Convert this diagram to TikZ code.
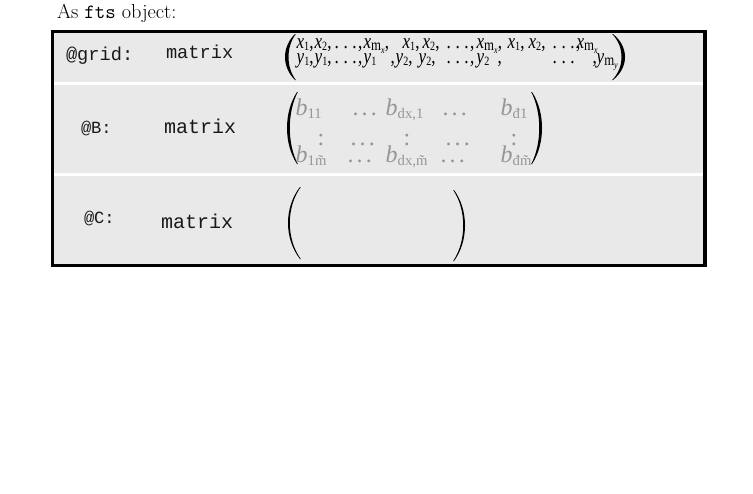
\documentclass[tikz,border=0pt]{standalone}
\usepackage{graphicx}
\usepackage{fontspec}
\newfontfamily\cour{Liberation Mono}
\newfontfamily\tms{Liberation Serif}
\definecolor{rowgray}{RGB}{233,233,233}
\definecolor{entgray}{RGB}{150,150,150}
\definecolor{lblcol}{RGB}{25,25,25}
\newdimen\pxu \pxu=0.75pt
\newcommand\at[2]{\rlap{\hskip#1\pxu #2}}
\newcommand\ats[2]{\rlap{\hskip#1\pxu\scalebox{0.8}[1]{#2}}}
\newcommand\lo[1]{\raisebox{-0.3ex}{\fontsize{9.5}{9.5}\selectfont\upshape #1}}
\newcommand\llo[1]{\raisebox{-0.3ex}{\fontsize{7.5}{7.5}\selectfont\itshape #1}}
\newcommand\lom[1]{\raisebox{-0.3ex}{\fontsize{12}{12}\selectfont\upshape m\llo{#1}}}
\newcommand\lob[1]{\raisebox{-0.35ex}{\fontsize{11}{11}\selectfont\upshape #1}}
\newcommand\dtsa{.\hspace{4.3pt}.\hspace{4.3pt}.}
\newcommand\dtsb{.\hspace{2.3pt}.\hspace{2.3pt}.}
\newcommand\xx[1]{\textit{x}\lo{#1}}
\newcommand\yy[1]{\textit{y}\lo{#1}}
\newcommand\xm{\textit{x}\lom{x}}
\newcommand\ym{\textit{y}\lom{y}}
\newcommand\bb[1]{\textit{b}\lob{#1}}
\newcommand\mylpar[5]{%
  \fill[black] (#1,#2) .. controls ({(#4-0.25*#1)/0.75},{#2+0.28*(#3-#2)}) and ({(#4-0.25*#1)/0.75},{#2+0.72*(#3-#2)}) .. (#1,#3)
    -- ({#1+0.8},#3) .. controls ({(#4+#5-0.25*(#1+0.8))/0.75},{#2+0.72*(#3-#2)}) and ({(#4+#5-0.25*(#1+0.8))/0.75},{#2+0.28*(#3-#2)}) .. ({#1+0.8},#2) -- cycle;}
\newcommand\myrpar[5]{%
  \fill[black] (#1,#2) .. controls ({(#4-0.25*#1)/0.75},{#2+0.28*(#3-#2)}) and ({(#4-0.25*#1)/0.75},{#2+0.72*(#3-#2)}) .. (#1,#3)
    -- ({#1-0.8},#3) .. controls ({(#4-#5-0.25*(#1-0.8))/0.75},{#2+0.72*(#3-#2)}) and ({(#4-#5-0.25*(#1-0.8))/0.75},{#2+0.28*(#3-#2)}) .. ({#1-0.8},#2) -- cycle;}
\begin{document}
\begin{tikzpicture}[x=0.75pt,y=-0.75pt,
  txt/.style={anchor=base west,inner sep=0pt,outer sep=0pt},
  lbl/.style={txt,text=lblcol},
  mline/.style={txt,font=\tms\fontsize{16}{16}\selectfont},
  bline/.style={txt,text=entgray,font=\tms\fontsize{18}{18}\selectfont}]
\useasboundingbox (0,0) rectangle (753,493);
% title
\node[txt,font=\fontsize{15.2}{15.2}\selectfont] (title) at (57,18) {As \texttt{fts} object:};
% table background
\fill[rowgray] (52,31) rectangle (705,266);
\draw[white,line width=2.3pt] (53,83.5) -- (704,83.5);
\draw[white,line width=2.3pt] (53,174.5) -- (704,174.5);
\draw[black,line width=2.6pt] (52.5,31.5) rectangle (705,265.5);
% labels
\node[lbl,font=\cour\fontsize{14}{14}\selectfont] (lgrid) at (66,60) {@grid:};
\node[lbl,font=\cour\fontsize{14}{14}\selectfont] (mgrid) at (166,58) {matrix};
\node[lbl,font=\cour\fontsize{12.8}{12.8}\selectfont] (lB) at (81,133) {@B:};
\node[lbl,font=\cour\fontsize{15}{15}\selectfont] (mB) at (164,133) {matrix};
\node[lbl,font=\cour\fontsize{12.8}{12.8}\selectfont] (lC) at (84,223) {@C:};
\node[lbl,font=\cour\fontsize{15}{15}\selectfont] (mC) at (161,228) {matrix};
% grid matrix
\mylpar{295}{34}{80}{285}{3.5}
\myrpar{613}{34}{80}{625}{3.5}
\node[mline] (gx) at (296,48) {%
  \ats{0}{\xx{1},}\ats{18}{\xx{2},}\ats{38}{\dtsa\hspace{1.5pt},}\ats{67}{\xm,}%
  \ats{106}{\xx{1},}\ats{126}{\xx{2},}\ats{150}{\dtsa\hspace{1.5pt},}\ats{180}{\xm,}%
  \ats{211}{\xx{1},}\ats{232}{\xx{2},}\ats{256}{\dtsa\hspace{1.5pt},}\ats{280}{\xm}};
\node[mline] (gy) at (296,63) {%
  \ats{0}{\yy{1},}\ats{18}{\yy{1},}\ats{38}{\dtsa\hspace{1.5pt},}\ats{67}{\yy{1}}%
  \ats{94}{,}\ats{99}{\yy{2},}\ats{122}{\yy{2},}\ats{150}{\dtsa\hspace{1.5pt},}\ats{180}{\yy{2}}%
  \ats{201}{,}\ats{256}{\dtsa}\ats{296}{,}\ats{300}{\ym}};
% B matrix
\mylpar{297}{92}{164}{287}{2.8}
\myrpar{532}{92}{164}{542}{2.8}
\node[bline] (ba) at (295,115) {%
  \at{0}{\bb{11}}\at{57}{\dtsb}\at{90}{\bb{dx,1}}\at{147}{\dtsb}\at{205}{\bb{đ1}}};
\node[bline] (bb) at (295,145) {%
  \at{22}{:}\at{55}{\dtsb}\at{108}{:}\at{150}{\dtsb}\at{215}{:}};
\node[bline] (bc) at (295,162) {%
  \at{0}{\bb{1\~m}}\at{52}{\dtsb}\at{90}{\bb{dx,\~m}}\at{145}{\dtsb}\at{205}{\bb{đ\~m}}};
% C matrix
\mylpar{300}{187}{259}{288}{1.8}
\myrpar{454}{190}{261}{465}{1.8}
\end{tikzpicture}
\end{document}
